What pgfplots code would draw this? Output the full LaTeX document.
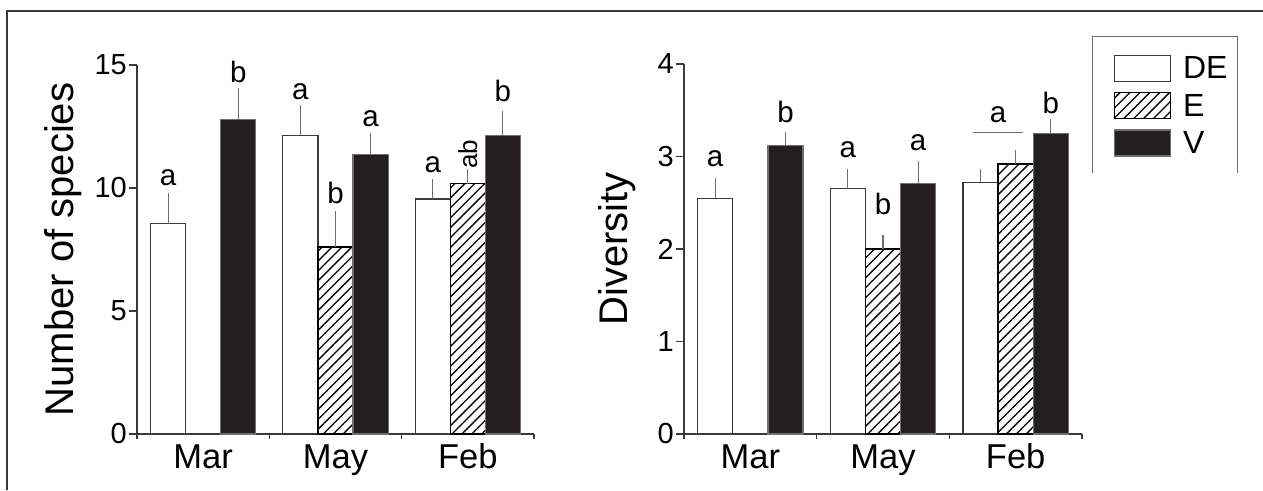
\documentclass[border=0pt]{standalone}
\usepackage{pgfplots}
\pgfplotsset{compat=1.18}
\usepackage{fontspec}
\setmainfont{Liberation Sans}
\usetikzlibrary{patterns.meta}
\definecolor{barblack}{HTML}{231F20}
\definecolor{axgray}{HTML}{3A3A3A}
\definecolor{errgray}{HTML}{6E6E6E}
\pgfplotsset{
  panel/.style={
    scale only axis, anchor=south west, clip=false,
    xmin=-0.5, xmax=2.5, ymin=0,
    axis x line*=bottom, axis y line*=left,
    axis line style={axgray, line width=1.4pt},
    tick align=outside,
    xtick={0,1,2}, xticklabels={Mar,May,Feb},
    x tick style={draw=none},
    extra x ticks={-0.5,0.5,1.5,2.5}, extra x tick labels={},
    extra x tick style={major tick length=5pt, x tick style={draw=axgray, line width=1.2pt}},
    major tick length=8pt,
    y tick style={line width=1.2pt, axgray},
    xticklabel style={font=\fontsize{34.5}{36}\selectfont, inner sep=2pt, text height=24.5pt, text depth=7pt},
    yticklabel style={font=\fontsize{29}{31}\selectfont, inner sep=2pt},
    ylabel style={font=\fontsize{40}{42}\selectfont},
    /pgf/number format/assume math mode=true,
  },
  errs/.style={
    error bars/y dir=plus, error bars/y explicit,
    error bars/error bar style={errgray, line width=1.1pt},
    error bars/error mark options={errgray, line width=1.1pt, mark size=4.5pt}},
  legimg/.style={legend image code/.code={\draw[##1] (0pt,-13pt) rectangle (56pt,13pt);}},
  bde/.style={ybar, bar width=0.265, bar shift=0pt, fill=white, draw=axgray, line width=1.2pt, errs, legimg},
  be/.style={ybar, bar width=0.265, bar shift=0pt, draw=black, line width=1.2pt,
    pattern={Lines[angle=45,distance=7pt,line width=1.3pt]}, pattern color=black, errs, legimg},
  bv/.style={ybar, bar width=0.265, bar shift=0pt, fill=barblack, draw=errgray, line width=1.2pt, errs, legimg},
}
\newcommand{\lett}{\fontsize{29.5}{31}\selectfont}
\begin{document}
\begin{tikzpicture}
\useasboundingbox (0pt,0pt) rectangle (1263pt,490pt);
\draw[line width=2.2pt, axgray] (7pt,0pt) -- (7pt,479pt) -- (1263pt,479pt);
\draw[errgray, line width=1pt] (1092pt,317pt) -- (1092pt,453pt) -- (1237pt,453pt) -- (1237pt,317pt);

\begin{axis}[panel, at={(137pt,56pt)}, width=397pt, height=369pt,
  ymax=15, ytick={0,5,10,15},
  ylabel={Number of species},
  ylabel style={at={(axis description cs:-0.161,0.5)}, rotate=0, anchor=base}]
\addplot[bde] coordinates {(-0.265,8.55) +- (0,1.05) (0.735,12.15) +- (0,1.05) (1.735,9.55) +- (0,0.65)};
\addplot[be] coordinates {(1,7.6) +- (0,1.27) (2,10.17) +- (0,0.4)};
\addplot[bv] coordinates {(0.265,12.8) +- (0,1.1) (1.265,11.35) +- (0,0.72) (2.265,12.15) +- (0,0.78)};
\node[font=\lett, anchor=base] at (axis cs:-0.265,10.12) {a};
\node[font=\lett, anchor=base] at (axis cs:0.265,14.27) {b};
\node[font=\lett, anchor=base] at (axis cs:0.735,13.58) {a};
\node[font=\lett, anchor=base] at (axis cs:1,9.39) {b};
\node[font=\lett, anchor=base] at (axis cs:1.265,12.48) {a};
\node[font=\lett, anchor=base] at (axis cs:1.735,10.65) {a};
\node[font=\fontsize{26}{28}\selectfont, rotate=90, anchor=center] at (axis cs:2,11.38) {ab};
\node[font=\lett, anchor=base] at (axis cs:2.265,13.5) {b};
\end{axis}

\begin{axis}[panel, at={(684pt,56pt)}, width=398pt, height=370pt,
  ymax=4, ytick={0,1,2,3,4},
  ylabel={Diversity},
  ylabel style={at={(axis description cs:-0.143,0.5)}, rotate=0, anchor=base},
  legend style={draw=none, fill=none, inner sep=0pt, outer sep=0pt,
    at={(axis description cs:1.080,1.0243)}, anchor=north west,
    row sep=10pt, font=\fontsize{32}{34}\selectfont, nodes={inner sep=0pt},
    /tikz/every odd column/.append style={column sep=12pt}},
  legend cell align=left]
\addplot[bde] coordinates {(-0.265,2.55) +- (0,0.17) (0.735,2.65) +- (0,0.17) (1.735,2.72) +- (0,0.10)};
\addlegendentry{DE}
\addplot[be] coordinates {(1,2.0) +- (0,0.10) (2,2.92) +- (0,0.10)};
\addlegendentry{E}
\addplot[bv] coordinates {(0.265,3.12) +- (0,0.10) (1.265,2.71) +- (0,0.19) (2.265,3.25) +- (0,0.11)};
\addlegendentry{V}
\node[font=\lett, anchor=base] at (axis cs:-0.265,2.89) {a};
\node[font=\lett, anchor=base] at (axis cs:0.265,3.37) {b};
\node[font=\lett, anchor=base] at (axis cs:0.735,2.99) {a};
\node[font=\lett, anchor=base] at (axis cs:1,2.37) {b};
\node[font=\lett, anchor=base] at (axis cs:1.265,3.07) {a};
\node[font=\lett, anchor=base] at (axis cs:1.868,3.37) {a};
\draw[errgray, line width=1.1pt] (axis cs:1.678,3.26) -- (axis cs:2.055,3.26);
\node[font=\lett, anchor=base] at (axis cs:2.265,3.47) {b};
\end{axis}
\end{tikzpicture}
\end{document}
